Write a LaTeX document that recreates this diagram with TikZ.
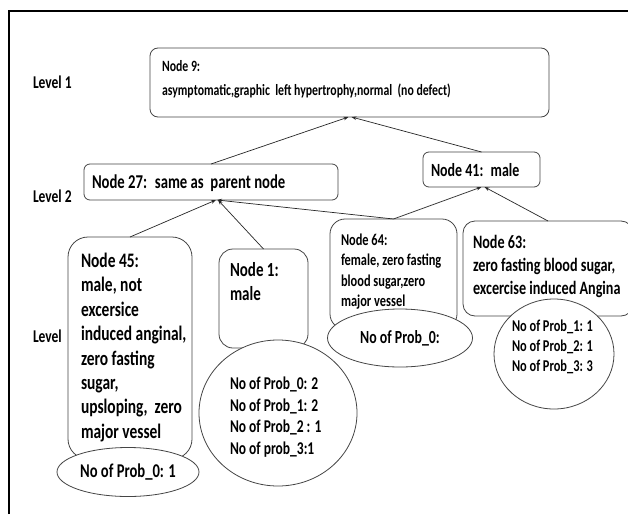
\documentclass[tikz,border=0pt]{standalone}
\usepackage{fontspec}
\setmainfont[FakeStretch=0.75,UprightFont={* Bold}]{Carlito}
\usetikzlibrary{arrows.meta,shapes.geometric}

\definecolor{edgegray}{HTML}{454545}
\newcommand{\fs}[2]{\fontsize{#1pt}{#2pt}\selectfont}

\begin{document}
\begin{tikzpicture}[x=1pt,y=-1pt,
  shapebox/.style={draw=edgegray, line width=0.8pt, inner sep=0pt, outer sep=0pt, anchor=north west},
  oval/.style={ellipse, draw=edgegray, line width=0.8pt, fill=white, inner sep=0pt, outer sep=0pt},
  txt/.style={inner sep=0pt, outer sep=0pt, anchor=north west, align=left},
  link/.style={draw=black!85, line width=0.7pt, -{Stealth[length=5pt,width=3.6pt]}}]

\clip (0,0) rectangle (628,514);
\fill[white] (0,0) rectangle (628,514);

% outer frame (top and left edges)
\draw[line width=2.5pt] (9,514) -- (9,11) -- (628,11);

% level captions
\node[txt, font=\fs{18}{22}] (lv1) at (33,76) {Level 1};
\node[txt, font=\fs{18}{22}] (lv2) at (33,190) {Level 2};
\node[txt, font=\fs{18}{22}] (lv3) at (33,330) {Level};

% tree boxes
\node[shapebox, rounded corners=8pt, minimum width=399pt, minimum height=69pt] (n9) at (150,48) {};
\node[shapebox, rounded corners=6pt, minimum width=254pt, minimum height=36pt] (n27) at (84,164) {};
\node[shapebox, rounded corners=6pt, minimum width=117pt, minimum height=35pt] (n41) at (423,152) {};
\node[shapebox, rounded corners=20pt, minimum width=124pt, minimum height=222pt] (n45) at (68,237) {};
\node[shapebox, rounded corners=14pt, minimum width=89pt, minimum height=99pt] (n1) at (219,249) {};
\node[shapebox, rounded corners=15pt, minimum width=127pt, minimum height=110pt] (n64) at (330,219) {};
\node[shapebox, rounded corners=12pt, minimum width=170pt, minimum height=95pt] (n63) at (463,221) {};

% connectors, child to parent
\draw[link] (n27.north) -- ([xshift=-1pt]n9.south);
\draw[link] (n41.north) -- ([xshift=2pt]n9.south);
\draw[link] (n45.north) -- ([xshift=5pt]n27.south);
\draw[link] (n1.north) -- ([xshift=7pt]n27.south);
\draw[link] (n64.north) -- ([xshift=6pt]n27.south);
\draw[link] (n64.north) -- (n41.south);
\draw[link] (n63.north) -- ([xshift=3pt]n41.south);

% probability ovals
\node[oval, minimum width=142pt, minimum height=49pt, font=\fs{19.5}{23}] (e45) at (128,472) {No of Prob\_0: 1};
\node[oval, minimum width=158pt, minimum height=146pt] (e1) at (278,413) {};
\node[oval, minimum width=145pt, minimum height=58pt, font=\fs{18.5}{22}] (e64) at (400,338) {No of Prob\_0:};
\node[oval, minimum width=120pt, minimum height=110pt] (e63) at (554,354) {};

% box texts
\node[txt, font=\fs{15.7}{24}] (t9) at (162,60) {Node 9:\\asymptomatic,graphic~ left hypertrophy,normal~ (no defect)};
\node[txt, font=\fs{19.6}{23}] (t27) at (92,175) {Node 27:~ same as~ parent node};
\node[txt, font=\fs{18.6}{22}] (t41) at (431,163) {Node 41:~ male};
\node[txt, font=\fs{20.6}{24.4}] (t45) at (81,253) {Node 45:\\male, not\\excersice\\induced anginal,\\zero fasting\\sugar,\\upsloping,~ zero\\major vessel};
\node[txt, font=\fs{20}{24}] (t1) at (230,262) {Node 1:\\male};
\node[txt, font=\fs{18}{21.5}] (te1) at (230,377) {No of Prob\_0: 2\\No of Prob\_1: 2\\No of Prob\_2 : 1\\No of prob\_3:1};
\node[txt, font=\fs{16.5}{20.3}] (t64) at (341,234) {Node 64:\\female, zero fasting\\blood sugar,zero\\major vessel};
\node[txt, font=\fs{18.9}{23}] (t63) at (473,235) {Node 63:\\zero fasting blood sugar,\\excercise induced Angina};
\node[txt, font=\fs{16.5}{20}] (te63) at (512,320) {No of Prob\_1: 1\\No of Prob\_2: 1\\No of Prob\_3: 3};
\end{tikzpicture}
\end{document}
